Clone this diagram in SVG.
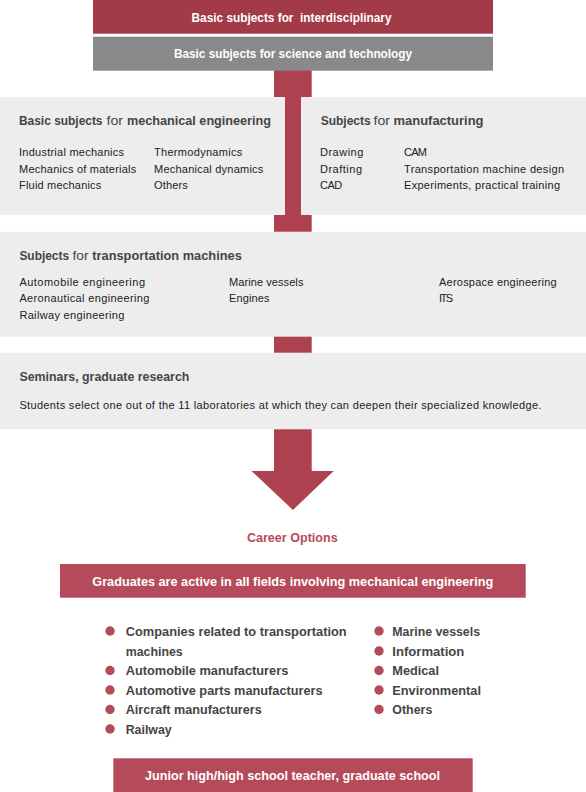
<svg xmlns="http://www.w3.org/2000/svg" width="586" height="792" viewBox="0 0 586 792">
<style>
text{font-family:"Liberation Sans",Arial,sans-serif}
.panel{fill:#ededed}
.title{font-size:13.5px;font-weight:bold;fill:#454545}
.tp{font-size:12px;font-weight:bold;fill:#454545}
.lt{font-size:12.5px;font-weight:normal;fill:#454545}
.item{font-size:11px;fill:#222}
.wt{font-size:12.5px;font-weight:bold;fill:#fff}
.bl{font-size:12.5px;font-weight:bold;fill:#454545}
.dot{fill:#b54b5a}
</style>
<rect width="586" height="792" fill="#fff"/>
<g id="connectors">
<rect x="274" y="70" width="37.7" height="402" fill="#ad4150"/>
<polygon points="251.5,471 333.7,471 292.9,510" fill="#ad4150"/>
</g>
<g id="top-interdisciplinary">
<rect x="93" y="0" width="400" height="33.7" fill="#a33a47"/>
<text class="wt" x="291.5" y="21.5" text-anchor="middle" xml:space="preserve" textLength="200" lengthAdjust="spacingAndGlyphs">Basic subjects for  interdisciplinary</text>
</g>
<g id="science-tech">
<rect x="93" y="36.7" width="400" height="34" fill="#898989"/>
<text class="wt" x="293" y="57.5" text-anchor="middle" textLength="238" lengthAdjust="spacingAndGlyphs">Basic subjects for science and technology</text>
</g>
<g id="mech-eng">
<rect class="panel" x="0" y="97" width="285" height="118"/>
<text class="tp" x="19" y="125" textLength="83.5" lengthAdjust="spacingAndGlyphs">Basic subjects</text>
<text class="lt" x="106.5" y="125" textLength="16.5" lengthAdjust="spacingAndGlyphs">for</text>
<text class="tp" x="127" y="125" textLength="144" lengthAdjust="spacingAndGlyphs">mechanical engineering</text>
<text class="item" x="19" y="156" textLength="105">Industrial mechanics</text>
<text class="item" x="19" y="172.5" textLength="117.3">Mechanics of materials</text>
<text class="item" x="19" y="189" textLength="82.3">Fluid mechanics</text>
<text class="item" x="154" y="156" textLength="88.3">Thermodynamics</text>
<text class="item" x="154" y="172.5" textLength="109.3">Mechanical dynamics</text>
<text class="item" x="154" y="189" textLength="33.7">Others</text>
</g>
<g id="manufacturing">
<rect class="panel" x="301" y="97" width="285" height="118"/>
<text class="tp" x="320.7" y="125" textLength="50" lengthAdjust="spacingAndGlyphs">Subjects</text>
<text class="lt" x="373.5" y="125" textLength="16.5" lengthAdjust="spacingAndGlyphs">for</text>
<text class="tp" x="393.5" y="125" textLength="90" lengthAdjust="spacingAndGlyphs">manufacturing</text>
<text class="item" x="320" y="156" textLength="43.3">Drawing</text>
<text class="item" x="320" y="172.5" textLength="42">Drafting</text>
<text class="item" x="320" y="189" textLength="22.3">CAD</text>
<text class="item" x="404" y="156" textLength="23">CAM</text>
<text class="item" x="404" y="172.5" textLength="160">Transportation machine design</text>
<text class="item" x="404" y="189" textLength="156">Experiments, practical training</text>
</g>
<g id="transport">
<rect class="panel" x="0" y="231.7" width="586" height="105"/>
<text class="tp" x="19.4" y="260" textLength="49.7" lengthAdjust="spacingAndGlyphs">Subjects</text>
<text class="lt" x="72.5" y="260" textLength="16" lengthAdjust="spacingAndGlyphs">for</text>
<text class="tp" x="92.3" y="260" textLength="149.5" lengthAdjust="spacingAndGlyphs">transportation machines</text>
<text class="item" x="19.4" y="286" textLength="125.6">Automobile engineering</text>
<text class="item" x="19.4" y="302" textLength="130">Aeronautical engineering</text>
<text class="item" x="19.4" y="318.5" textLength="105">Railway engineering</text>
<text class="item" x="229" y="286" textLength="74.4">Marine vessels</text>
<text class="item" x="229" y="302" textLength="40.4">Engines</text>
<text class="item" x="439" y="286" textLength="117.7">Aerospace engineering</text>
<text class="item" x="439" y="302" textLength="14.2">ITS</text>
</g>
<g id="seminars">
<rect class="panel" x="0" y="352.7" width="586" height="76.6"/>
<text class="title" x="19.4" y="380.5" textLength="170" lengthAdjust="spacingAndGlyphs">Seminars, graduate research</text>
<text class="item" x="19.4" y="408.5" textLength="522">Students select one out of the 11 laboratories at which they can deepen their specialized knowledge.</text>
</g>
<g id="career-options">
<text x="292.3" y="541.5" text-anchor="middle" font-size="12.5" font-weight="bold" fill="#b54b5a" textLength="90.7" lengthAdjust="spacingAndGlyphs">Career Options</text>
</g>
<g id="graduates">
<rect x="60" y="564" width="465.7" height="33.7" fill="#b54b5a"/>
<text class="wt" x="292.8" y="586" text-anchor="middle" style="font-size:13.5px" textLength="401" lengthAdjust="spacingAndGlyphs">Graduates are active in all fields involving mechanical engineering</text>
</g>
<g id="career-list">
<circle class="dot" cx="110" cy="631" r="4.7"/>
<circle class="dot" cx="110" cy="670.5" r="4.7"/>
<circle class="dot" cx="110" cy="690" r="4.7"/>
<circle class="dot" cx="110" cy="709.5" r="4.7"/>
<circle class="dot" cx="110" cy="729" r="4.7"/>
<text class="bl" x="125.7" y="636" textLength="221" lengthAdjust="spacingAndGlyphs">Companies related to transportation</text>
<text class="bl" x="125.7" y="655.5" textLength="57" lengthAdjust="spacingAndGlyphs">machines</text>
<text class="bl" x="125.7" y="675" textLength="162.6" lengthAdjust="spacingAndGlyphs">Automobile manufacturers</text>
<text class="bl" x="125.7" y="694.5" textLength="197" lengthAdjust="spacingAndGlyphs">Automotive parts manufacturers</text>
<text class="bl" x="125.7" y="714" textLength="136" lengthAdjust="spacingAndGlyphs">Aircraft manufacturers</text>
<text class="bl" x="125.7" y="733.5" textLength="46" lengthAdjust="spacingAndGlyphs">Railway</text>
<circle class="dot" cx="379" cy="631" r="4.7"/>
<circle class="dot" cx="379" cy="651" r="4.7"/>
<circle class="dot" cx="379" cy="670.5" r="4.7"/>
<circle class="dot" cx="379" cy="690" r="4.7"/>
<circle class="dot" cx="379" cy="709.5" r="4.7"/>
<text class="bl" x="392.3" y="636" textLength="87.7" lengthAdjust="spacingAndGlyphs">Marine vessels</text>
<text class="bl" x="392.3" y="655.5" textLength="72" lengthAdjust="spacingAndGlyphs">Information</text>
<text class="bl" x="392.3" y="675" textLength="46.7" lengthAdjust="spacingAndGlyphs">Medical</text>
<text class="bl" x="392.3" y="694.5" textLength="88.7" lengthAdjust="spacingAndGlyphs">Environmental</text>
<text class="bl" x="392.3" y="714" textLength="40" lengthAdjust="spacingAndGlyphs">Others</text>
</g>
<g id="teacher">
<rect x="113.3" y="758.3" width="359.4" height="33.7" fill="#b54b5a"/>
<text class="wt" x="292.5" y="780" text-anchor="middle" textLength="295" lengthAdjust="spacingAndGlyphs">Junior high/high school teacher, graduate school</text>
</g>
</svg>
